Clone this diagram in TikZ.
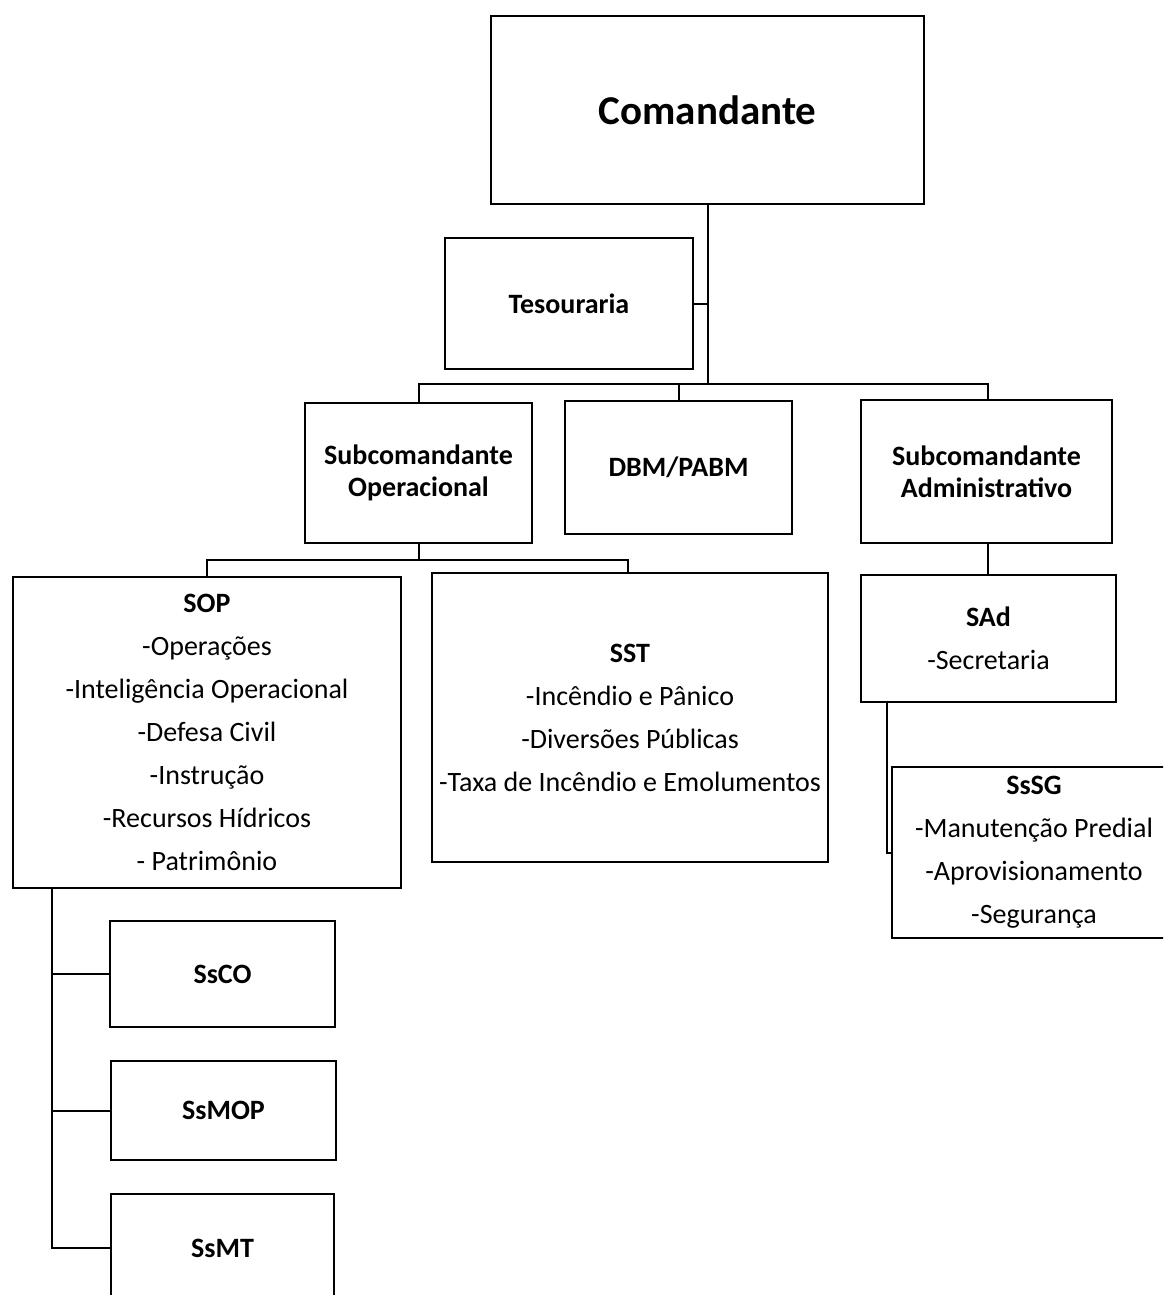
\documentclass[tikz,border=0pt]{standalone}
\usepackage{fontspec}
\setmainfont{Carlito}
\begin{document}
\begin{tikzpicture}[x=1pt,y=-1pt,
  unit/.style={draw, line width=2pt, rectangle, inner sep=0pt, align=center,
    font=\fontsize{28}{43}\selectfont},
  head/.style={unit, font=\fontsize{28}{32}\selectfont\bfseries},
  wire/.style={draw, line width=2pt}]
\useasboundingbox (0,0) rectangle (1163,1295);
\clip (0,0) rectangle (1163,1295);

% top of the hierarchy
\node[unit, minimum width=433, minimum height=188, font=\fontsize{41}{48}\selectfont\bfseries]
  (com) at (707.5,110) {Comandante};
\node[head, minimum width=248, minimum height=131] (tes) at (569,303.5) {Tesouraria};

% second level
\node[head, minimum width=227, minimum height=140] (subop) at (418.5,473) {Subcomandante\\Operacional};
\node[head, minimum width=227, minimum height=133] (dbm) at (678.5,467.5) {DBM/PABM};
\node[head, minimum width=251, minimum height=143] (subadm) at (986.5,471.5) {Subcomandante\\Administrativo};

% sections
\node[unit, minimum width=388, minimum height=311] (sop) at (207,732.5)
  {\textbf{SOP}\\-Operações\\-Inteligência Operacional\\-Defesa Civil\\-Instrução\\-Recursos Hídricos\\- Patrimônio};
\node[unit, minimum width=396, minimum height=289] (sst) at (630,717.5)
  {\textbf{SST}\\-Incêndio e Pânico\\-Diversões Públicas\\-Taxa de Incêndio e Emolumentos};
\node[unit, minimum width=255, minimum height=127] (sad) at (988.5,638.5)
  {\textbf{SAd}\\-Secretaria};
\node[unit, minimum width=284, minimum height=171] (sssg) at (1034,852.5)
  {\textbf{SsSG}\\-Manutenção Predial\\-Aprovisionamento\\-Segurança};

% subsections of SOP
\node[head, minimum width=225, minimum height=106] (ssco) at (222.5,974) {SsCO};
\node[head, minimum width=225, minimum height=99] (ssmop) at (223.5,1110.5) {SsMOP};
\node[head, minimum width=223, minimum height=108] (ssmt) at (222.5,1248) {SsMT};

% connectors
\coordinate (trunk) at (708,384);
\coordinate (opbus) at (419,560);
\coordinate (admdrop) at (988,560);
\coordinate (sadjoin) at (887,853);
\coordinate (sopspine) at (52,1248);

\draw[wire] (com.south -| trunk) -- (trunk);
\draw[wire] (tes.east) -- (tes.east -| trunk);
\draw[wire] (subop.north -| opbus) |- (trunk) -| (subadm.north -| admdrop);
\draw[wire] (dbm.north) -- (dbm.north |- trunk);

\draw[wire] (subop.south -| opbus) -- (opbus);
\draw[wire] (sop.north) |- (opbus) -| (sst.north -| 628,0);
\draw[wire] (subadm.south -| admdrop) -- (sad.north -| admdrop);

\draw[wire] (sad.south -| sadjoin) -- (sadjoin) -- (sssg.west |- sadjoin);

\draw[wire] (sop.south -| sopspine) -- (sopspine) -- (ssmt.west);
\draw[wire] (ssco.west) -- (ssco.west -| sopspine);
\draw[wire] (ssmop.west) -- (ssmop.west -| sopspine);
\end{tikzpicture}
\end{document}
